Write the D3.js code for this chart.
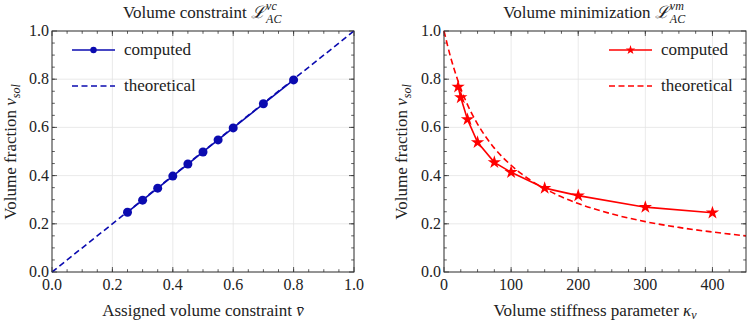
<!DOCTYPE html>
<meta charset="utf-8">
<style>

body {
  margin: 0;
  background: #fff;
}

svg text {
  font-family: "Liberation Serif", "Times New Roman", serif;
  fill: #222;
}

.grid line {
  stroke: #e4e4e4;
  stroke-width: 0.8;
}

.frame {
  fill: none;
  stroke: #333;
  stroke-width: 1;
}

.tick-mark {
  stroke: #333;
  stroke-width: 0.8;
}

</style>

<svg id="chart" width="747" height="324"></svg>

<script src="https://cdnjs.cloudflare.com/ajax/libs/d3/7.8.5/d3.min.js"></script>
<script>

// left panel: volume constraint
var vcAssigned = [0.25, 0.30, 0.35, 0.40, 0.45, 0.50, 0.55, 0.60, 0.70, 0.80];
var vcComputed = [0.248, 0.298, 0.348, 0.398, 0.448, 0.498, 0.548, 0.598, 0.698, 0.797];
var vcTheoryX = [0.0, 1.0];
var vcTheoryY = [0.0, 1.0];

// right panel: volume minimization
var vmKappa = [21, 25, 35, 50, 75, 100, 150, 200, 300, 400];
var vmComputed = [0.768, 0.724, 0.633, 0.538, 0.455, 0.414, 0.348, 0.317, 0.269, 0.246];
var vmTheoryK = [0, 10, 20, 30, 40, 50, 60, 75, 100, 125, 150, 175, 200, 250, 300, 350, 400, 450];
var vmTheoryV = [1.0, 0.89, 0.80, 0.726, 0.665, 0.614, 0.57, 0.514, 0.443, 0.388, 0.346, 0.312, 0.284, 0.241, 0.209, 0.185, 0.166, 0.150];

var yTicks = [0.0, 0.2, 0.4, 0.6, 0.8, 1.0];
var xTicksLeft = [0.0, 0.2, 0.4, 0.6, 0.8, 1.0];
var xTicksRight = [0, 100, 200, 300, 400];

var blue = "#0b0bb0",
    red = "#ff0000";

var svg = d3.select("#chart");

var plotTop = 31, plotBottom = 272, panelW = 302;
var fs = "17px", tickFs = "16px", smallFs = "12px";

function zip(a, b) {
  return a.map(function(d, i) { return [d, b[i]]; });
}

// draw one panel frame with grid, inward ticks on all sides and labels
function makePanel(opt) {
  var g = svg.append("g");
  var x = d3.scaleLinear().domain(opt.xDomain).range([opt.left, opt.left + panelW]);
  var y = d3.scaleLinear().domain([0, 1]).range([plotBottom, plotTop]);

  var grid = g.append("g").attr("class", "grid");
  grid.selectAll(".gx")
    .data(opt.xTicks)
    .enter().append("line")
    .attr("x1", function(d) { return x(d); })
    .attr("x2", function(d) { return x(d); })
    .attr("y1", plotTop).attr("y2", plotBottom);
  grid.selectAll(".gy")
    .data(yTicks)
    .enter().append("line")
    .attr("y1", function(d) { return y(d); })
    .attr("y2", function(d) { return y(d); })
    .attr("x1", x.range()[0]).attr("x2", x.range()[1]);

  var ticks = g.append("g");
  function tickSet(vals, len, horizontal) {
    vals.forEach(function(v) {
      if (horizontal) {
        var px = x(v);
        ticks.append("line").attr("class", "tick-mark")
          .attr("x1", px).attr("x2", px).attr("y1", plotBottom).attr("y2", plotBottom - len);
        ticks.append("line").attr("class", "tick-mark")
          .attr("x1", px).attr("x2", px).attr("y1", plotTop).attr("y2", plotTop + len);
      } else {
        var py = y(v);
        ticks.append("line").attr("class", "tick-mark")
          .attr("y1", py).attr("y2", py).attr("x1", x.range()[0]).attr("x2", x.range()[0] + len);
        ticks.append("line").attr("class", "tick-mark")
          .attr("y1", py).attr("y2", py).attr("x1", x.range()[1]).attr("x2", x.range()[1] - len);
      }
    });
  }
  tickSet(opt.xTicks, 5, true);
  tickSet(opt.xMinor, 2.8, true);
  tickSet(yTicks, 5, false);
  tickSet(d3.range(0.05, 1, 0.05), 2.8, false);

  g.selectAll(".xl")
    .data(opt.xTicks)
    .enter().append("text")
    .attr("x", function(d) { return x(d); })
    .attr("y", 290)
    .attr("text-anchor", "middle")
    .style("font-size", tickFs)
    .text(opt.xFormat);

  g.selectAll(".yl")
    .data(yTicks)
    .enter().append("text")
    .attr("x", x.range()[0] - 3)
    .attr("y", function(d) { return y(d) + 5; })
    .attr("text-anchor", "end")
    .style("font-size", tickFs)
    .text(d3.format(".1f"));

  return {g: g, x: x, y: y};
}

// title with script L and stacked sup/sub
function title(cx, label, sup) {
  var t = svg.append("text")
    .attr("x", cx).attr("y", 18)
    .attr("text-anchor", "middle")
    .style("font-size", fs);
  t.append("tspan").text(label + " ");
  t.append("tspan").style("font-style", "italic").text("\u2112");
  var w = t.node().getComputedTextLength();
  var shift = 9;
  t.attr("x", cx - shift);
  var right = cx - shift + w / 2 + 1;
  svg.append("text").attr("x", right).attr("y", 10)
    .style("font-size", smallFs).style("font-style", "italic").text(sup);
  svg.append("text").attr("x", right).attr("y", 23)
    .style("font-size", smallFs).style("font-style", "italic").text("AC");
}

function yLabel(px, cy) {
  var t = svg.append("text")
    .attr("transform", "translate(" + px + "," + cy + ") rotate(-90)")
    .attr("text-anchor", "middle")
    .style("font-size", fs);
  t.append("tspan").text("Volume fraction ");
  t.append("tspan").style("font-style", "italic").text("v");
  t.append("tspan").style("font-style", "italic").style("font-size", smallFs).attr("dy", 4).text("sol");
}

// ---- left panel
var L = makePanel({
  left: 52,
  xDomain: [0, 1],
  xTicks: xTicksLeft,
  xMinor: d3.range(0.05, 1, 0.05),
  xFormat: d3.format(".1f")
});

var line = d3.line()
  .x(function(d) { return L.x(d[0]); })
  .y(function(d) { return L.y(d[1]); });

L.g.append("path")
  .datum(zip(vcTheoryX, vcTheoryY))
  .attr("d", line)
  .attr("fill", "none")
  .attr("stroke", blue)
  .attr("stroke-width", 1.6)
  .attr("stroke-dasharray", "6,3.5");

L.g.append("path")
  .datum(zip(vcAssigned, vcComputed))
  .attr("d", line)
  .attr("fill", "none")
  .attr("stroke", blue)
  .attr("stroke-width", 1.6);

L.g.selectAll(".pt")
  .data(zip(vcAssigned, vcComputed))
  .enter().append("circle")
  .attr("cx", function(d) { return L.x(d[0]); })
  .attr("cy", function(d) { return L.y(d[1]); })
  .attr("r", 4.5)
  .attr("fill", blue);

// ---- right panel
var R = makePanel({
  left: 444,
  xDomain: [0, 450],
  xTicks: xTicksRight,
  xMinor: d3.range(25, 450, 25),
  xFormat: d3.format("d")
});

R.g.append("path")
  .datum(zip(vmTheoryK, vmTheoryV))
  .attr("d", d3.line()
    .x(function(d) { return R.x(d[0]); })
    .y(function(d) { return R.y(d[1]); })
    .curve(d3.curveMonotoneX))
  .attr("fill", "none")
  .attr("stroke", red)
  .attr("stroke-width", 1.6)
  .attr("stroke-dasharray", "6,3.5");

R.g.append("path")
  .datum(zip(vmKappa, vmComputed))
  .attr("d", d3.line()
    .x(function(d) { return R.x(d[0]); })
    .y(function(d) { return R.y(d[1]); }))
  .attr("fill", "none")
  .attr("stroke", red)
  .attr("stroke-width", 1.6);

var star = d3.symbol().type(d3.symbolStar).size(55);
R.g.selectAll(".st")
  .data(zip(vmKappa, vmComputed))
  .enter().append("path")
  .attr("d", star)
  .attr("transform", function(d) { return "translate(" + R.x(d[0]) + "," + R.y(d[1]) + ")"; })
  .attr("fill", red);

// frames on top
[L, R].forEach(function(p) {
  p.g.append("rect").attr("class", "frame")
    .attr("x", p.x.range()[0]).attr("y", plotTop)
    .attr("width", panelW).attr("height", plotBottom - plotTop);
});

// legends
function legend(x0, color, marker) {
  var g = svg.append("g");
  g.append("line").attr("x1", x0).attr("x2", x0 + 43).attr("y1", 50).attr("y2", 50)
    .attr("stroke", color).attr("stroke-width", 1.6);
  if (marker === "circle") {
    g.append("circle").attr("cx", x0 + 21.5).attr("cy", 50).attr("r", 3.2).attr("fill", color);
  } else {
    g.append("path").attr("d", d3.symbol().type(d3.symbolStar).size(28))
      .attr("transform", "translate(" + (x0 + 21.5) + ",50)").attr("fill", color);
  }
  g.append("line").attr("x1", x0).attr("x2", x0 + 43).attr("y1", 86).attr("y2", 86)
    .attr("stroke", color).attr("stroke-width", 1.6).attr("stroke-dasharray", "6,3.5");
  g.append("text").attr("x", x0 + 52).attr("y", 55).style("font-size", fs).text("computed");
  g.append("text").attr("x", x0 + 52).attr("y", 91).style("font-size", fs).text("theoretical");
}
legend(72, blue, "circle");
legend(609, red, "star");

// titles and axis labels
title(203, "Volume constraint", "vc");
title(595, "Volume minimization", "vm");

yLabel(16, 152);
yLabel(407, 152);

var xl = svg.append("text").attr("x", 203).attr("y", 316)
  .attr("text-anchor", "middle").style("font-size", fs);
xl.append("tspan").text("Assigned volume constraint ");
xl.append("tspan").style("font-style", "italic").text("v\u0304");

var xr = svg.append("text").attr("x", 595).attr("y", 316)
  .attr("text-anchor", "middle").style("font-size", fs);
xr.append("tspan").text("Volume stiffness parameter ");
xr.append("tspan").style("font-style", "italic").text("\u03ba");
xr.append("tspan").style("font-style", "italic").style("font-size", smallFs).attr("dy", 3).text("v");

</script>
